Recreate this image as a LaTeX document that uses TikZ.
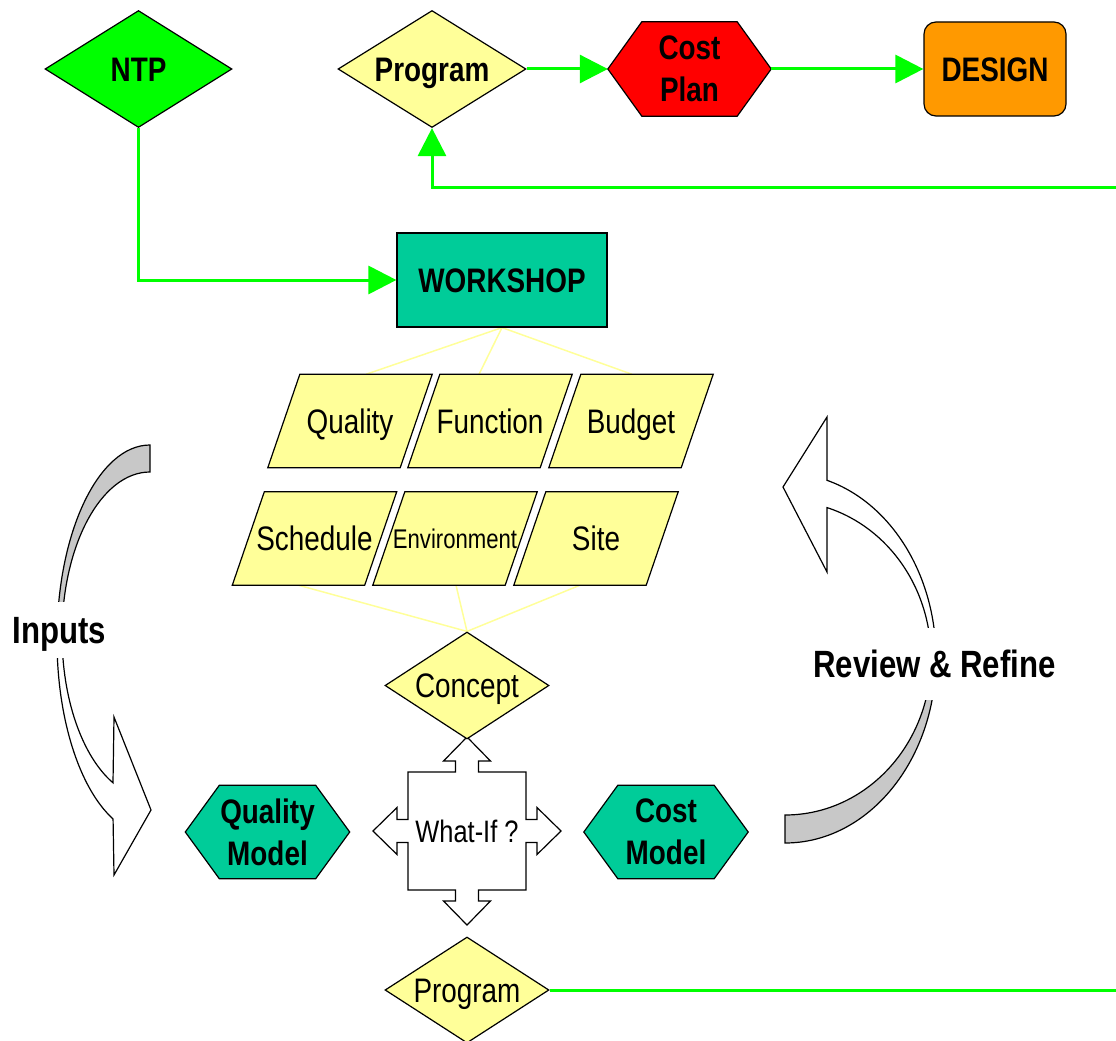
\documentclass[tikz,border=0pt]{standalone}
\usepackage{fontspec}
\setmainfont{Liberation Sans}[FakeStretch=0.82]
\usetikzlibrary{shapes.geometric,arrows.meta,backgrounds}
\definecolor{ygl}{HTML}{FFFF99}
\definecolor{tl}{HTML}{00CC99}
\definecolor{gr}{HTML}{00FF00}
\definecolor{rd}{HTML}{FF0000}
\definecolor{orng}{HTML}{FF9900}
\definecolor{gry}{HTML}{C8C8C8}
\tikzset{
  shp/.style={draw=black,line width=1.2pt},
  dia/.style={shape=diamond,shp,inner sep=0pt,shape aspect=1.6},
  lblb/.style={font=\bfseries\fontsize{34}{42}\selectfont,align=center},
  lblr/.style={font=\fontsize{34}{41}\selectfont},
  one/.style={text height=24.3pt,text depth=0pt},
  boxn/.style={minimum width=164,minimum height=93,inner sep=0pt},
  garrow/.style={draw=gr,line width=3pt,-{Triangle[length=28pt,width=28pt]}},
  gline/.style={draw=gr,line width=3pt},
  yline/.style={draw=ygl,line width=1.5pt},
  band/.style={draw=black,line width=1.2pt},
  side/.style={fill=white,font=\bfseries\fontsize{38}{45}\selectfont,text height=27.2pt,text depth=0pt,inner xsep=2pt}
}
\begin{document}
\begin{tikzpicture}[x=1pt,y=-1pt]
\useasboundingbox (0,0) rectangle (1116,1041);
% top row
\node[dia,fill=gr,minimum width=187,minimum height=117,lblb,one] (ntp) at (138.5,69) {NTP};
\node[dia,fill=ygl,minimum width=188,minimum height=117,lblb,one] (prog) at (432,69) {Program};
\node[boxn,lblb,minimum width=163,minimum height=94] (cp) at (689.5,69) {Cost\\Plan};
\node[shp,rounded corners=12pt,fill=orng,minimum width=142,minimum height=94,lblb,one] (des) at (995,69) {DESIGN};
% workshop
\node[shp,fill=tl,minimum width=210,minimum height=94,lblb,one] (ws) at (502,280) {WORKSHOP};
% parallelograms
\node[boxn,lblr,one] (qu) at (350,421) {Quality};
\node[boxn,lblr,one] (fu) at (490,421) {Function};
\node[boxn,lblr,one] (bu) at (631,421) {Budget};
\node[boxn,lblr,one] (sc) at (314.5,538.5) {Schedule};
\node[boxn,font=\fontsize{27}{32}\selectfont,text height=19.3pt,text depth=0pt] (en) at (455,538.5) {Environment};
\node[boxn,lblr,one] (si) at (596,538.5) {Site};
% concept
\node[dia,fill=ygl,minimum width=164,minimum height=107,lblr,one] (con) at (467,685.5) {Concept};
% what-if
\node[minimum width=188,minimum height=188,inner sep=0pt,font=\fontsize{31}{37}\selectfont,text height=22.2pt,text depth=0pt] (wi) at (467,831) {What-If ?};
% models
\node[boxn,lblb] (qm) at (267.5,832) {Quality\\Model};
\node[boxn,lblb] (cm) at (666,832) {Cost\\Model};
% bottom program
\node[dia,fill=ygl,minimum width=164,minimum height=106,lblr,one] (prog2) at (467,990) {Program};
% side labels
\node[side,minimum height=56] (inp) at (59.5,630) {Inputs};
\node[side,minimum height=72] (rr) at (934.5,664) {Review \& Refine};

\begin{scope}[on background layer]
  % yellow connectors
  \draw[yline] (ws.south) -- ([xshift=16pt]qu.north);
  \draw[yline] (ws.south) -- ([xshift=-11pt]fu.north);
  \draw[yline] (ws.south) -- ([xshift=1pt]bu.north);
  \draw[yline] (con.north) -- ([xshift=-16pt]sc.south);
  \draw[yline] (con.north) -- ([xshift=1pt]en.south);
  \draw[yline] (con.north) -- ([xshift=-16pt]si.south);
  % hexagons
  \foreach \n/\c in {cp/rd,qm/tl,cm/tl}
    \filldraw[shp,fill=\c] (\n.west) -- ([xshift=34pt]\n.north west) -- ([xshift=-34pt]\n.north east)
      -- (\n.east) -- ([xshift=-34pt]\n.south east) -- ([xshift=34pt]\n.south west) -- cycle;
  % parallelograms
  \foreach \n in {qu,fu,bu,sc,en,si}
    \filldraw[shp,fill=ygl] (\n.south west) -- ([xshift=32pt]\n.north west) -- (\n.north east)
      -- ([xshift=-32pt]\n.south east) -- cycle;
  % what-if cross
  \filldraw[shp,fill=white,shift={(wi.center)}] (0,-94) -- (23.5,-70) -- (11.5,-70) -- (11.5,-59) -- (59,-59)
    -- (59,-11.5) -- (70,-11.5) -- (70,-23.5) -- (94,0) -- (70,23.5) -- (70,11.5) -- (59,11.5) -- (59,59)
    -- (11.5,59) -- (11.5,70) -- (23.5,70) -- (0,94) -- (-23.5,70) -- (-11.5,70) -- (-11.5,59) -- (-59,59)
    -- (-59,11.5) -- (-70,11.5) -- (-70,23.5) -- (-94,0) -- (-70,-23.5) -- (-70,-11.5) -- (-59,-11.5)
    -- (-59,-59) -- (-11.5,-59) -- (-11.5,-70) -- (-23.5,-70) -- cycle;
  % inputs ribbon
  \filldraw[band,fill=gry] (150,445) arc[start angle=-90,end angle=-180,x radius=93,y radius=195]
    -- (62,635) arc[start angle=180,end angle=270,x radius=88,y radius=163] -- cycle;
  \filldraw[band,fill=white] (57,640) arc[start angle=180,end angle=113.4,x radius=93,y radius=195]
    -- (114,875) -- (151,810) -- (114,717) -- (113,782.8)
    arc[start angle=114.9,end angle=180,x radius=88,y radius=163] -- cycle;
  % review ribbon
  \filldraw[band,fill=gry] (785,843) arc[start angle=90,end angle=0,x radius=151,y radius=185]
    -- (931,658) arc[start angle=0,end angle=90,x radius=146,y radius=157] -- cycle;
  \filldraw[band,fill=white] (936,658) arc[start angle=0,end angle=-73.85,x radius=151,y radius=185]
    -- (827,417) -- (783,487) -- (827,572) -- (827,507.6)
    arc[start angle=-73.28,end angle=0,x radius=146,y radius=157] -- cycle;
\end{scope}

% green connectors
\coordinate (fbR) at (1116,187.5);
\coordinate (btR) at (1116,990);
\draw[garrow] (ntp.south) |- (ws.west);
\draw[garrow] (prog.east) -- (cp.west);
\draw[garrow] (cp.east) -- (des.west);
\draw[garrow] (fbR) -| (prog.south);
\draw[gline] (prog2.east) -- (btR);
\end{tikzpicture}
\end{document}
